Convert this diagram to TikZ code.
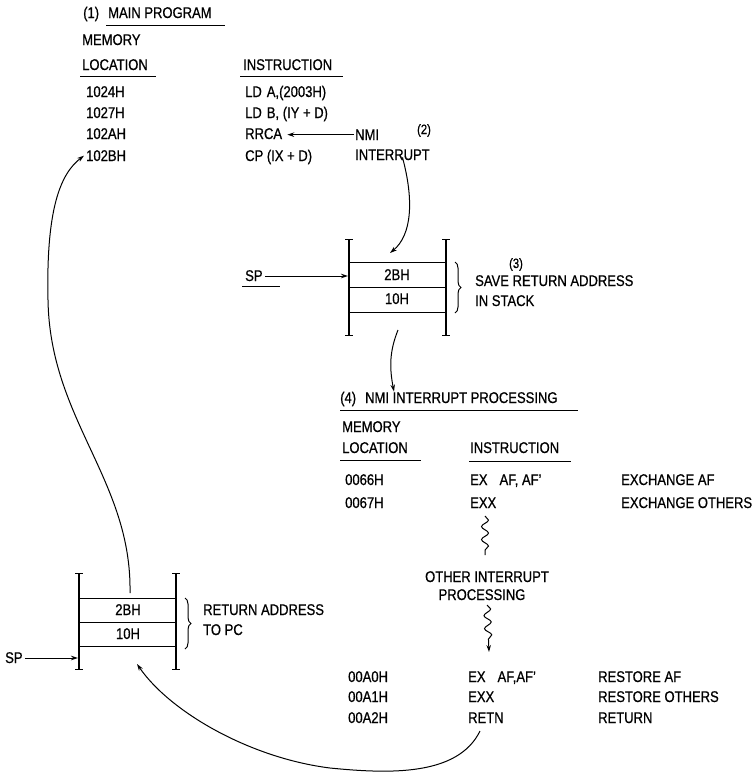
\documentclass[tikz,border=0pt]{standalone}
\usepackage{fontspec}
\setmainfont{Liberation Sans}[FakeStretch=0.84,FakeBold=0.7]
\usetikzlibrary{arrows.meta,decorations.pathmorphing,decorations.pathreplacing}
\begin{document}
\begin{tikzpicture}[x=1pt,y=-1pt,
  txt/.style={font=\fontsize{15.5}{17}\selectfont, inner sep=0pt, anchor=base west},
  ctr/.style={font=\fontsize{15.5}{17}\selectfont, inner sep=0pt, anchor=base},
  sml/.style={font=\fontsize{13.5}{15}\selectfont, inner sep=0pt, anchor=base},
  ln/.style={line width=1pt},
  ul/.style={line width=0.9pt},
  wall/.style={line width=1.6pt},
  arr/.style={line width=1pt, -{Stealth[length=7pt,width=4.5pt]}},
  wig/.style={line width=1pt, decorate, decoration={snake, amplitude=3.5pt, segment length=13pt}},
  brc/.style={line width=1pt, decorate, decoration={brace, amplitude=6pt}},
]
\useasboundingbox (0,0) rectangle (753,774);

% ---------- (1) main program ----------
\node[txt] (h1n) at (83,18) {(1)};
\node[txt] (h1) at (108,18) {MAIN PROGRAM};
\draw[ul] (106,25) -- (225,25);
\node[txt] (mem1) at (82,45) {MEMORY};
\node[txt] (loc1) at (82,70) {LOCATION};
\draw[ul] (80,76) -- (156,76);
\node[txt] (ins1) at (243,70) {INSTRUCTION};
\draw[ul] (240,76) -- (343,76);

\node[txt] (a1) at (86,97)  {1024H};
\node[txt] (a2) at (86,118) {1027H};
\node[txt] (a3) at (86,139) {102AH};
\node[txt] (a4) at (86,161) {102BH};
\node[txt] (i1) at (245,97)  {LD\hspace{5pt}A,(2003H)};
\node[txt] (i2) at (245,118) {LD\hspace{5pt}B, (IY + D)};
\node[txt] (i3) at (245,139) {RRCA};
\node[txt] (i4) at (245,161) {CP (IX + D)};

% ---------- (2) NMI ----------
\node[txt] (nmi) at (355,140) {NMI};
\node[txt] (intr) at (355,160) {INTERRUPT};
\node[sml] (n2) at (424,134) {(2)};
\draw[arr] ([xshift=-1pt]nmi.west) -- ([xshift=5pt]i3.east |- nmi.west);

% ---------- stack 1 ----------
\draw[wall] (349,239) -- (349,335);
\draw[wall] (446,239) -- (446,335);
\foreach \x in {349,446}{\draw[ln] (\x-4,239) -- (\x+4,239); \draw[ln] (\x-4,335) -- (\x+4,335);}
\draw[ln] (349,262) -- (446,262);
\draw[ln] (349,287) -- (446,287);
\draw[ln] (349,312) -- (446,312);
\node[ctr] (s1a) at (397,280) {2BH};
\node[ctr] (s1b) at (397,304) {10H};
\coordinate (s1top) at (390,253);
\coordinate (s1bot) at (398,330);
\coordinate (s1L) at (348,276);
\node[txt] (sp1) at (245,281) {SP};
\draw[ul] (242,286) -- (280,286);
\draw[arr] ([xshift=2pt]sp1.east |- s1L) -- (s1L);
\draw[brc] (455,262) -- (455,313);
\node[sml] (n3) at (516,268) {(3)};
\node[txt] (save1) at (475,286) {SAVE RETURN ADDRESS};
\node[txt] (save2) at (475,306) {IN STACK};

\draw[arr] ([xshift=10pt,yshift=3pt]intr.south) .. controls (414,200) and (412,235) .. (s1top);

% ---------- (4) NMI interrupt processing ----------
\node[txt] (h4) at (340,403) {(4)\hspace{9pt}NMI INTERRUPT PROCESSING};
\draw[ul] (340,410) -- (578,410);
\draw[arr] (s1bot) .. controls (390,350) and (389,366) .. (h4.north -| 394,0);
\node[txt] (mem4) at (342,432) {MEMORY};
\node[txt] (loc4) at (342,453) {LOCATION};
\draw[ul] (340,460) -- (421,460);
\node[txt] (ins4) at (470,453) {INSTRUCTION};
\draw[ul] (469,461) -- (571,461);

\node[txt] (b1) at (345,485) {0066H};
\node[txt] (b2) at (345,508) {0067H};
\node[txt] (j1) at (470,485) {EX\hspace{12pt}AF, AF'};
\node[txt] (j2) at (470,508) {EXX};
\node[txt] (k1) at (621,485) {EXCHANGE AF};
\node[txt] (k2) at (621,508) {EXCHANGE OTHERS};

\node[ctr] (oth1) at (487,582) {OTHER INTERRUPT};
\node[ctr] (oth2) at (482,600) {PROCESSING};
\coordinate (w1a) at (485,516);
\coordinate (w1b) at (485,555);
\draw[wig] (w1a) -- (w1b);
\coordinate (w2a) at (487,605);
\coordinate (w2b) at (489,652);
\draw[wig, -{Stealth[length=7pt,width=4.5pt]}, decoration={snake, amplitude=3.5pt, segment length=13pt, post length=7pt}]
  (w2a) -- (w2b);

\node[txt] (c1) at (348,682) {00A0H};
\node[txt] (c2) at (348,702) {00A1H};
\node[txt] (c3) at (348,723) {00A2H};
\node[txt] (l1) at (468,682) {EX\hspace{12pt}AF,AF'};
\node[txt] (l2) at (468,702) {EXX};
\node[txt] (l3) at (468,723) {RETN};
\node[txt] (m1) at (598,682) {RESTORE AF};
\node[txt] (m2) at (598,702) {RESTORE OTHERS};
\node[txt] (m3) at (598,723) {RETURN};

% ---------- stack 2 ----------
\draw[wall] (79,573) -- (79,669);
\draw[wall] (176,573) -- (176,669);
\foreach \x in {79,176}{\draw[ln] (\x-4,573) -- (\x+4,573); \draw[ln] (\x-4,669) -- (\x+4,669);}
\draw[ln] (79,598) -- (176,598);
\draw[ln] (79,622) -- (176,622);
\draw[ln] (79,646) -- (176,646);
\node[ctr] (s2a) at (128,615) {2BH};
\node[ctr] (s2b) at (128,639) {10H};
\coordinate (s2top) at (130,593);
\coordinate (s2in) at (137,664);
\coordinate (s2L) at (78,658);
\node[txt] (sp2) at (5,663) {SP};
\draw[arr] ([xshift=2pt]sp2.east |- s2L) -- (s2L);
\draw[brc] (185,598) -- (185,649);
\node[txt] (ret1) at (203,615) {RETURN ADDRESS};
\node[txt] (ret2) at (203,635) {TO PC};

% ---------- return curves ----------
\coordinate (rstart) at (480,731);
\draw[arr] (rstart) .. controls (458,776) and (390,774) .. (330,768)
  .. controls (250,758) and (170,712) .. (s2in);
\draw[arr] (s2top) .. controls (132,480) and (50,420) .. (48,300)
  .. controls (46,210) and (60,174) .. ([xshift=-2pt]a4.west);
\end{tikzpicture}
\end{document}
